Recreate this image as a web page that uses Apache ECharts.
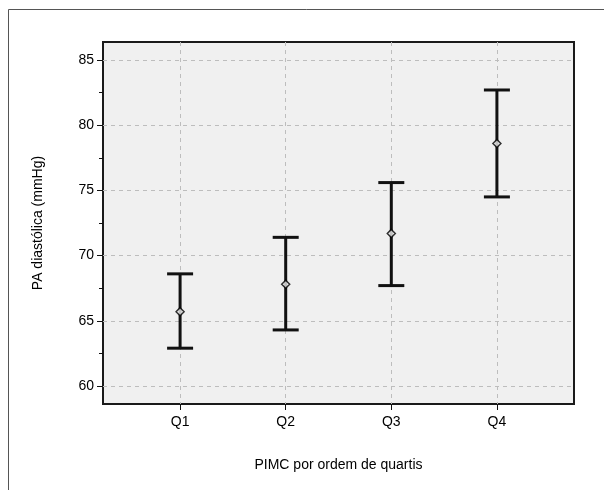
<!DOCTYPE html>
<html>
<head>
<meta charset="utf-8">
<script src="https://cdn.jsdelivr.net/npm/echarts@6/dist/echarts.min.js"></script>
<style>
  html, body { margin: 0; padding: 0; background: #fff; }
  #chart { width: 604px; height: 490px; }
</style>
</head>
<body>
<div id="chart"></div>
<script>
const categories = ['Q1', 'Q2', 'Q3', 'Q4']
const means = [65.7, 67.8, 71.7, 78.6]
const lower = [62.9, 64.3, 67.7, 74.5]
const upper = [68.6, 71.4, 75.6, 82.7]
const yMajorTicks = [60, 65, 70, 75, 80, 85]
const yMinorTicks = [62.5, 67.5, 72.5, 77.5, 82.5]

const positions = categories.map((c, i) => i + 1)
const barData = positions.map((x, i) => [x, lower[i], upper[i]])
const meanData = positions.map((x, i) => [x, means[i]])

const font = 'Liberation Sans, Arial, sans-serif'
const gridLine = { show: true, lineStyle: { color: '#bdbdbd', type: [4, 4], width: 1 } }

function renderErrorBar(params, api) {
  const x = api.value(0)
  const lo = api.coord([x, api.value(1)])
  const hi = api.coord([x, api.value(2)])
  const half = 13
  const style = { stroke: '#111', lineWidth: 3 }
  return {
    type: 'group',
    children: [
      { type: 'line', shape: { x1: hi[0], y1: hi[1], x2: lo[0], y2: lo[1] }, style },
      { type: 'line', shape: { x1: hi[0] - half, y1: hi[1], x2: hi[0] + half, y2: hi[1] }, style },
      { type: 'line', shape: { x1: lo[0] - half, y1: lo[1], x2: lo[0] + half, y2: lo[1] }, style }
    ]
  }
}

const chart = echarts.init(document.getElementById('chart'), null, { renderer: 'canvas' })
chart.setOption({
  backgroundColor: '#fff',
  animation: false,
  textStyle: { fontFamily: font },
  graphic: [{
    type: 'rect',
    shape: { x: 8.5, y: 9.5, width: 620, height: 500 },
    style: { fill: 'none', stroke: '#555', lineWidth: 1 },
    silent: true
  }],
  grid: {
    left: 103, top: 42, right: 30, bottom: 86,
    show: true,
    backgroundColor: '#f0f0f0',
    borderColor: '#1a1a1a',
    borderWidth: 2
  },
  xAxis: {
    type: 'value',
    min: 0.27,
    max: 4.73,
    name: 'PIMC por ordem de quartis',
    nameLocation: 'middle',
    nameGap: 54,
    nameTextStyle: { fontSize: 14, color: '#000', fontFamily: font },
    axisLine: { show: false },
    axisTick: { show: true, customValues: positions, length: 6, lineStyle: { color: '#111', width: 1 } },
    axisLabel: {
      customValues: positions,
      formatter: v => categories[Math.round(v) - 1] || '',
      fontSize: 14, color: '#000', margin: 11, fontFamily: font
    },
    splitLine: gridLine
  },
  yAxis: [{
    type: 'value',
    min: 58.62,
    max: 86.38,
    name: 'PA diastólica (mmHg)',
    nameLocation: 'middle',
    nameGap: 58,
    nameTextStyle: { fontSize: 14, color: '#000', fontFamily: font },
    axisLine: { show: false },
    axisTick: { show: true, customValues: yMajorTicks, length: 6, lineStyle: { color: '#111', width: 1 } },
    axisLabel: { customValues: yMajorTicks, fontSize: 14, color: '#000', margin: 9, fontFamily: font },
    splitLine: gridLine
  }, {
    type: 'value',
    position: 'left',
    min: 58.62,
    max: 86.38,
    axisLine: { show: false },
    axisTick: { show: true, customValues: yMinorTicks, length: 4, lineStyle: { color: '#111', width: 1 } },
    axisLabel: { show: false, customValues: yMinorTicks },
    splitLine: { show: false }
  }],
  series: [{
    type: 'custom',
    renderItem: renderErrorBar,
    encode: { x: 0, y: [1, 2] },
    data: barData,
    z: 2
  }, {
    type: 'scatter',
    symbol: 'diamond',
    symbolSize: [8, 8],
    itemStyle: { color: '#f0f0f0', borderColor: '#000', borderWidth: 1.5 },
    data: meanData,
    z: 3
  }]
})
</script>
</body>
</html>
